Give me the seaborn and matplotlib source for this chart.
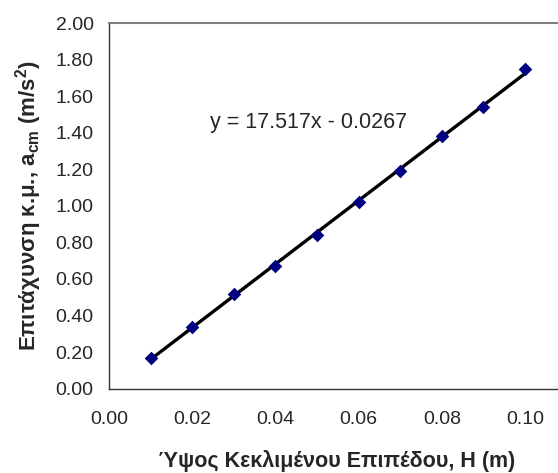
import numpy as np
import pandas as pd
import matplotlib.pyplot as plt
import seaborn as sns

# Data
height_m = [0.01, 0.02, 0.03, 0.04, 0.05, 0.06, 0.07, 0.08, 0.09, 0.10]
accel = [0.17, 0.34, 0.52, 0.67, 0.84, 1.02, 1.19, 1.38, 1.54, 1.75]
y_ticks = [0.0, 0.2, 0.4, 0.6, 0.8, 1.0, 1.2, 1.4, 1.6, 1.8, 2.0]
x_ticks = [0.0, 0.02, 0.04, 0.06, 0.08, 0.10]
equation = "y = 17.517x - 0.0267"

df = pd.DataFrame({"H": height_m, "a": accel})

sns.set_theme(style="white")
plt.rcParams["font.family"] = ["Liberation Sans", "DejaVu Sans"]
plt.rcParams["mathtext.fontset"] = "custom"
plt.rcParams["mathtext.rm"] = "Liberation Sans"
plt.rcParams["mathtext.bf"] = "Liberation Sans:bold"

fig = plt.figure(figsize=(5.58, 4.73), dpi=100)
# plot area runs off the right edge of the picture
ax = fig.add_axes([109 / 558, 84.3 / 473, 449 / 558, 365.7 / 473])

sns.regplot(data=df, x="H", y="a", ci=None, ax=ax,
            marker="D",
            scatter_kws={"color": "#000080", "s": 48, "linewidths": 0,
                         "alpha": 1, "zorder": 3},
            line_kws={"color": "black", "lw": 2.4, "zorder": 2})

ax.set_xlim(0, 449 / 4160)
ax.set_ylim(0, 2.0)
ax.set_xticks(x_ticks)
ax.set_yticks(y_ticks)
ax.set_xticklabels([f"{v:.2f}" for v in x_ticks], fontsize=14)
ax.set_yticklabels([f"{v:.2f}" for v in y_ticks], fontsize=14)
ax.tick_params(direction="out", length=5, width=1, color="#333333", pad=6)
ax.tick_params(axis="x", pad=11)

for side in ["left", "bottom"]:
    ax.spines[side].set_color("#333333")
    ax.spines[side].set_linewidth(1)
ax.spines["top"].set_color("#808080")
ax.spines["top"].set_linewidth(1.5)
ax.spines["right"].set_visible(False)

ax.text(0.0243, 1.456, equation, fontsize=15.5, va="center", ha="left")

ax.set_xlabel("Ύψος Κεκλιμένου Επιπέδου, H (m)", fontsize=15.5,
              fontweight="bold")
ax.xaxis.label.set_va("baseline")
ax.xaxis.set_label_coords(0.508, -0.214)
ax.set_ylabel(r"Επιτάχυνση κ.μ., a$_{\mathbf{cm}}$ (m/s$^{\mathbf{2}}$)",
              fontsize=16, fontweight="bold", labelpad=8)

fig.savefig("out.png", dpi=100)
